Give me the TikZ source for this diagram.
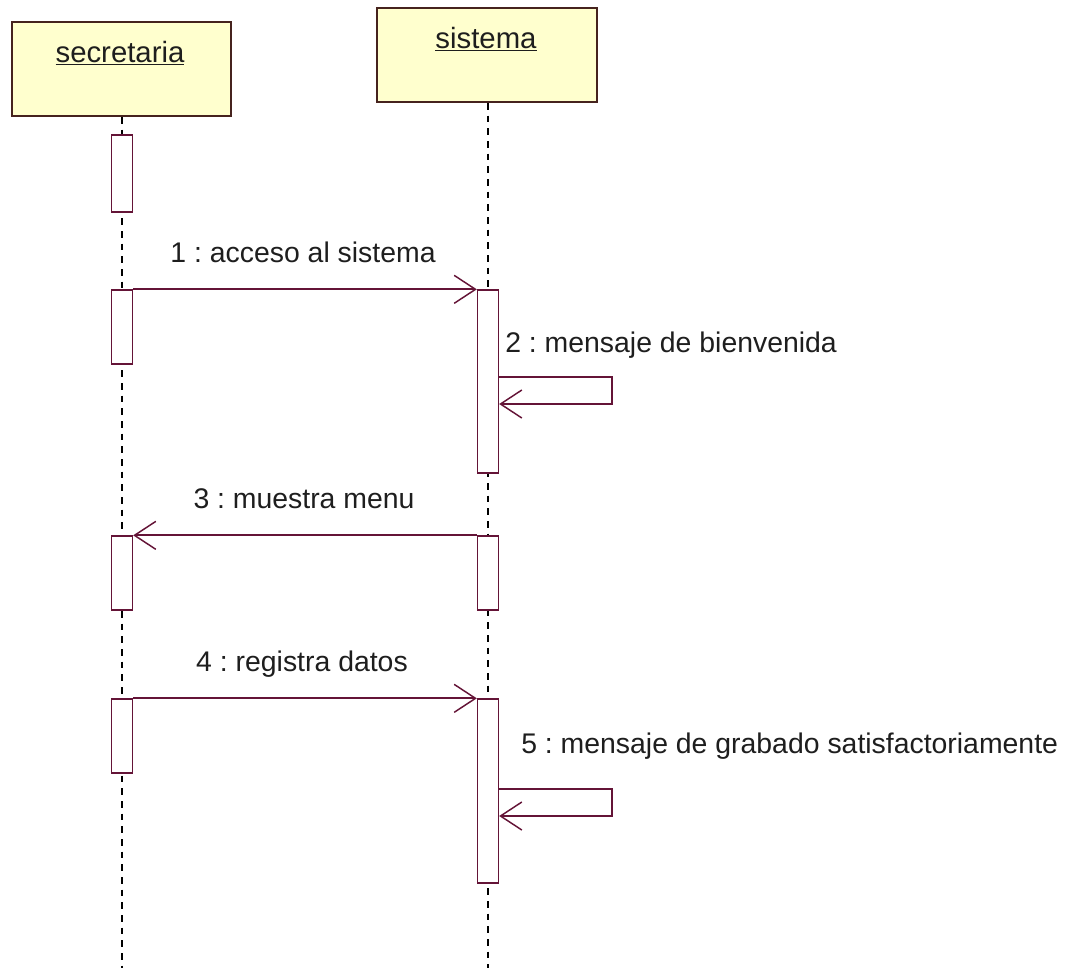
\documentclass[tikz,border=0pt]{standalone}
\usepackage{fontspec}
\setmainfont{Liberation Sans}
\usetikzlibrary{arrows.meta}
\definecolor{boxfill}{RGB}{255,255,206}
\definecolor{boxline}{RGB}{70,35,30}
\definecolor{msgline}{RGB}{100,20,55}
\definecolor{txt}{RGB}{30,30,30}
\tikzset{
  actorbox/.style={draw=boxline, fill=boxfill, line width=1.5pt, inner sep=0pt},
  actorname/.style={text=txt, font=\fontsize{22}{26}\selectfont, inner sep=0pt, anchor=base},
  lifeline/.style={draw=black, line width=1.1pt, dash pattern=on 5pt off 4.5pt},
  actbar/.style={draw=msgline, fill=white, line width=1pt, minimum width=15.75pt, inner sep=0pt},
  msg/.style={draw=msgline, line width=1.4pt, -{Straight Barb[length=16pt, width=21pt, line width=1.1pt]}},
  msglabel/.style={text=txt, font=\fontsize{21.3}{25}\selectfont, inner sep=0pt},
}
\begin{document}
\frenchspacing
\begin{tikzpicture}[x=0.75pt, y=-0.75pt]
\useasboundingbox (0,0) rectangle (1070,972);
% actor boxes
\node[actorbox, minimum width=164.25pt, minimum height=70.5pt] (A) at (121.5,69) {};
\node[actorname] (An) at (120,62) {\underline{secretaria}};
\node[actorbox, minimum width=165pt, minimum height=70.5pt] (B) at (487,55) {};
\node[actorname] (Bn) at (486,48) {\underline{sistema}};
% lifeline ends
\coordinate (endA) at (122,968);
\coordinate (endB) at (488,968);
\draw[lifeline] (A.south -| endA) -- (endA);
\draw[lifeline] (B.south -| endB) -- (endB);
% activations
\node[actbar, minimum height=57.75pt] (a1) at (122,173.5) {};
\node[actbar, minimum height=55.5pt] (a2) at (122,327) {};
\node[actbar, minimum height=55.5pt] (a3) at (122,573) {};
\node[actbar, minimum height=55.5pt] (a4) at (122,736) {};
\node[actbar, minimum height=137.25pt] (b1) at (488,381.5) {};
\node[actbar, minimum height=55.5pt] (b2) at (488,573) {};
\node[actbar, minimum height=138pt] (b3) at (488,791) {};
% message 1
\draw[msg] (a2.north east) -- (b1.north west);
\node[msglabel, anchor=base] (m1) at (303,262) {1 : acceso al sistema};
% message 2 (self)
\coordinate (s2a) at (612,377);
\coordinate (s2b) at (612,404);
\draw[msg] (b1.east |- s2a) -- (s2a) -- (s2b) -- (b1.east |- s2b);
\node[msglabel, anchor=base west] (m2) at (505,352) {2 : mensaje de bienvenida};
% message 3
\draw[msg] (b2.north west) -- (a3.north east);
\node[msglabel, anchor=base] (m3) at (304,508) {3 : muestra menu};
% message 4
\draw[msg] (a4.north east) -- (b3.north west);
\node[msglabel, anchor=base] (m4) at (302,671) {4 : registra datos};
% message 5 (self)
\coordinate (s5a) at (612,789);
\coordinate (s5b) at (612,816);
\draw[msg] (b3.east |- s5a) -- (s5a) -- (s5b) -- (b3.east |- s5b);
\node[msglabel, anchor=base west] (m5) at (521,753) {5 : mensaje de grabado satisfactoriamente};
\end{tikzpicture}
\end{document}
